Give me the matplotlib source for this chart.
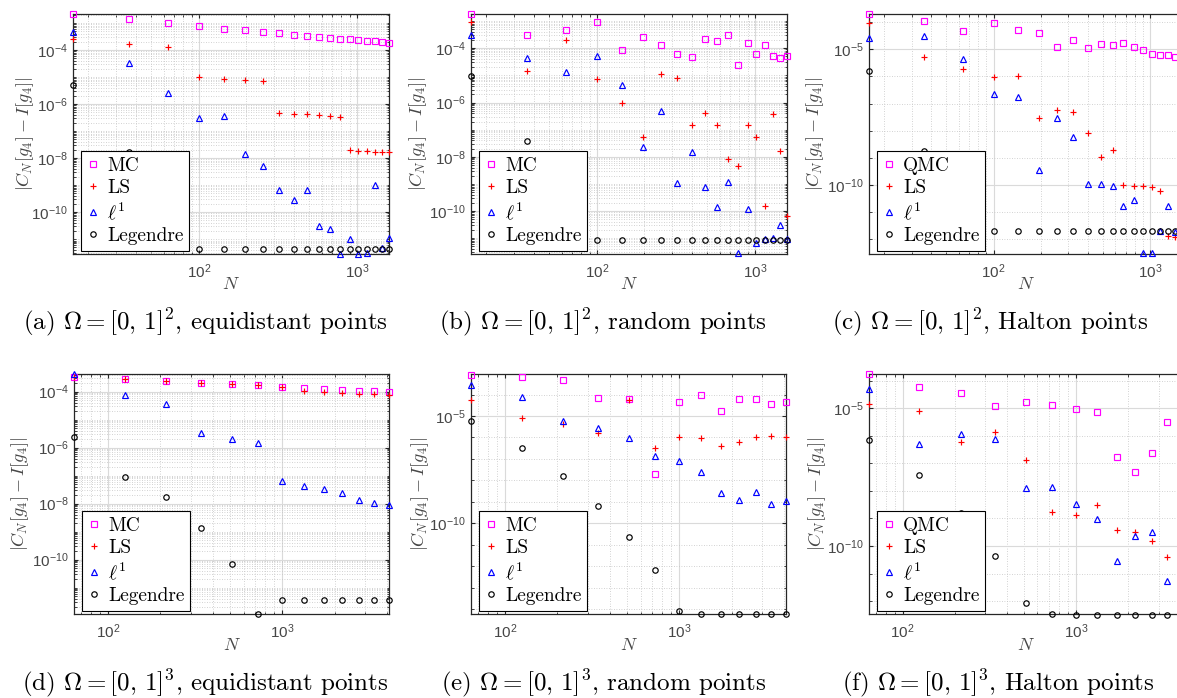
import numpy as np
import matplotlib
matplotlib.use("Agg")
import matplotlib.pyplot as plt
from matplotlib.ticker import LogLocator, NullFormatter, FixedLocator, FuncFormatter

# ---------------- data (log10 of |C_N[g4] - I[g4]|) ----------------
N2 = [16, 36, 64, 100, 144, 196, 256, 324, 400, 484, 576, 676, 784, 900, 1024, 1156, 1296, 1444, 1600]
N3 = [64, 125, 216, 343, 512, 729, 1000, 1331, 1728, 2197, 2744, 3375, 4096]

# (a) [0,1]^2 equidistant
mc_a = [-2.667, -2.863, -3.011, -3.111, -3.211, -3.270, -3.333, -3.381, -3.433, -3.470,
        -3.507, -3.544, -3.581, -3.604, -3.630, -3.656, -3.678, -3.704, -3.730]
ls_a = [-3.593, -3.789, -3.900, -4.989, -5.074, -5.122, -5.148, -6.322, -6.359, -6.381,
        -6.419, -6.444, -6.470, -7.704, -7.730, -7.752, -7.767, -7.778, -7.789]
l1_a = [-3.322, -4.493, -5.580, -6.507, -6.444, -7.852, -8.285, -9.159, -9.530, -9.185,
        -10.507, -10.619, -11.530, -10.989, -11.530, -11.493, -8.974, -11.322, -10.963]
lg_a = [-5.296, -7.778, -9.500, -11.346, -11.346, -11.346, -11.346, -11.346, -11.346, -11.346,
        -11.346, -11.346, -11.346, -11.346, -11.346, -11.346, -11.346, -11.346, -11.346]

# (b) [0,1]^2 random
mc_b = [-2.738, -3.522, -3.326, -3.021, -4.063, -3.573, -3.879, -4.221, -4.309, -3.647,
        -3.742, -3.522, -4.626, -3.794, -4.210, -3.868, -4.283, -4.357, -4.283]
ls_b = [-3.021, -4.824, -3.683, -5.141, -6.024, -7.254, -4.935, -5.082, -6.812, -6.392,
        -6.812, -8.085, -8.332, -6.812, -7.254, -9.830, -6.407, -7.769, -10.198]
l1_b = [-3.510, -4.346, -4.883, -4.283, -5.351, -7.644, -6.308, -8.969, -7.828, -9.116,
        -9.852, -8.932, -11.545, -9.904, -11.177, -11.030, -10.993, -10.504, -11.030]
lg_b = [-5.019, -7.400, -9.500, -11.056, -11.056, -11.056, -11.056, -11.056, -11.056, -11.056,
        -11.056, -11.056, -11.056, -11.056, -11.056, -11.056, -11.056, -11.056, -11.056]

# (c) [0,1]^2 Halton
mc_c = [-3.699, -3.946, -4.337, -4.020, -4.289, -4.410, -4.915, -4.646, -4.941, -4.805,
        -4.830, -4.757, -4.915, -5.037, -5.184, -5.199, -5.199, -5.273, -5.300]
ls_c = [-4.042, -5.295, -5.726, -6.032, -5.984, -7.532, -7.237, -7.322, -8.074, -8.958,
        -8.712, -10.013, -10.050, -10.028, -10.087, -10.234, -11.871, -11.930, -12.000]
l1_c = [-4.595, -4.510, -5.369, -6.659, -6.747, -9.449, -7.532, -8.221, -9.965, -9.965,
        -10.028, -10.765, -10.555, -12.519, -12.519, -11.686, -10.765, -11.723, -11.500]
lg_c = [-5.789, -8.737, -10.000, -11.686, -11.686, -11.686, -11.686, -11.686, -11.686, -11.686,
        -11.686, -11.686, -11.686, -11.686, -11.686, -11.686, -11.686, -11.686, -11.686]

# (d) [0,1]^3 equidistant
mc_d = [-3.488, -3.560, -3.619, -3.679, -3.726, -3.774, -3.821, -3.857, -3.905, -3.940, -3.964, -3.988, -4.012]
ls_d = [-3.488, -3.560, -3.619, -3.679, -3.726, -3.774, -3.821, -3.964, -4.012, -4.048, -4.071, -4.083, -4.107]
l1_d = [-3.369, -4.107, -4.440, -5.488, -5.702, -5.821, -7.179, -7.369, -7.488, -7.607, -7.881, -7.964, -8.060]
lg_d = [-5.631, -7.060, -7.750, -8.881, -10.155, -11.940, -11.440, -11.440, -11.440, -11.440, -11.440, -11.440, -11.440]

# (e) [0,1]^3 random
mc_e = [-3.090, -3.199, -3.323, -4.146, -4.208, -7.686, -4.332, -4.037, -4.752, -4.193, -4.208, -4.441, -4.348]
ls_e = [-4.255, -5.078, -5.357, -5.776, -4.239, -6.506, -5.994, -6.009, -6.413, -6.227, -5.978, -5.947, -5.978]
l1_e = [-3.556, -4.130, -5.217, -5.575, -6.040, -6.863, -7.081, -7.624, -8.602, -8.913, -8.540, -9.115, -8.975]
lg_e = [-5.217, -6.475, -7.780, -9.177, -10.652, -12.189, -14.068, -14.220, -14.220, -14.220, -14.220, -14.220, -14.220]

# (f) [0,1]^3 Halton
mc_f = [-3.753, -4.213, -4.455, -4.903, -4.770, -4.879, -5.036, -5.121, -6.755, -7.324, -6.622, -5.484, -5.600]
ls_f = [-4.855, -5.085, -6.235, -5.872, -6.877, -8.777, -8.886, -8.511, -9.431, -9.479, -9.818, -10.387, -10.600]
l1_f = [-4.310, -6.295, -5.944, -6.114, -7.893, -7.869, -8.475, -9.019, -10.545, -9.625, -9.504, -11.283, -11.000]
lg_f = [-6.150, -7.421, -8.789, -10.351, -12.082, -12.469, -12.500, -12.500, -12.500, -12.500, -12.500, -12.500, -12.500]

captions = [
    r"(a) $\Omega = [0,\,1]^2$, equidistant points",
    r"(b) $\Omega = [0,\,1]^2$, random points",
    r"(c) $\Omega = [0,\,1]^2$, Halton points",
    r"(d) $\Omega = [0,\,1]^3$, equidistant points",
    r"(e) $\Omega = [0,\,1]^3$, random points",
    r"(f) $\Omega = [0,\,1]^3$, Halton points",
]
first_labels = ["MC", "MC", "QMC", "MC", "MC", "QMC"]
other_labels = ["LS", r"$\ell^1$", "Legendre"]

# ---------------- style ----------------
plt.rcParams["font.family"] = ["Liberation Sans", "DejaVu Sans"]
plt.rcParams["mathtext.fontset"] = "custom"
plt.rcParams["mathtext.rm"] = "Liberation Sans"
plt.rcParams["mathtext.it"] = "Liberation Sans:italic"
plt.rcParams["mathtext.bf"] = "Liberation Sans:bold"
plt.rcParams["mathtext.sf"] = "Liberation Sans"

W, H = 1177, 698
fig = plt.figure(figsize=(W / 100, H / 100), dpi=100)

AXC = "#262626"
TXT = "#464646"

# panel geometry in pixels: left, top, right, bottom
geo = [
    (73, 14, 389, 254), (471, 14, 787, 254), (869, 14, 1182, 254),
    (74, 374, 389, 614), (471, 374, 786, 614), (869, 374, 1182, 614),
]
xlims = [(16, 1600)] * 3 + [(64, 4096)] * 3
ylims = [(-11.544, -2.667), (-11.58, -2.738), (-12.54, -3.699),
         (-11.94, -3.369), (-14.22, -3.043), (-12.47, -3.753)]
yticks = [[-10, -8, -6, -4], [-10, -8, -6, -4], [-10, -5],
          [-10, -8, -6, -4], [-10, -5], [-10, -5]]
dense_minor = [True, True, False, True, False, False]
ylab_off = [48, 53, 54, 54, 51, 52]
cap_x = [205, 603, 990, 205, 604, 998]
cap_y = [329, 329, 329, 690, 690, 690]

series = [
    (N2, mc_a, ls_a, l1_a, lg_a),
    (N2, mc_b, ls_b, l1_b, lg_b),
    (N2, mc_c, ls_c, l1_c, lg_c),
    (N3, mc_d, ls_d, l1_d, lg_d),
    (N3, mc_e, ls_e, l1_e, lg_e),
    (N3, mc_f, ls_f, l1_f, lg_f),
]

styles = [
    dict(marker="s", color="#ff00ff", ms=3.7),
    dict(marker="+", color="#ff0000", ms=4.8),
    dict(marker="^", color="#0000ff", ms=4.7),
    dict(marker="o", color="black", ms=3.9),
]


def sci_fmt(v, pos):
    e = int(round(np.log10(v)))
    return r"$\mathdefault{10^{%d}}$" % e


for i in range(6):
    l, t, r, b = geo[i]
    w, h = r - l, b - t
    ax = fig.add_axes([l / W, 1 - b / H, w / W, h / H])
    ax.set_xscale("log")
    ax.set_yscale("log")
    N = series[i][0]
    lines = []
    labels = [first_labels[i]] + other_labels
    for k in range(4):
        vals = 10.0 ** np.array(series[i][k + 1])
        st = styles[k]
        ln, = ax.plot(N, vals, linestyle="none", marker=st["marker"], color=st["color"],
                      markersize=st["ms"], markerfacecolor="none", markeredgewidth=0.85,
                      clip_on=False, zorder=3)
        lines.append(ln)
    ax.set_xlim(*xlims[i])
    ax.set_ylim(10.0 ** ylims[i][0], 10.0 ** ylims[i][1])

    ax.xaxis.set_major_locator(FixedLocator([100, 1000]))
    ax.xaxis.set_major_formatter(FuncFormatter(sci_fmt))
    ax.xaxis.set_minor_locator(LogLocator(base=10, subs=np.arange(2, 10), numticks=20))
    ax.xaxis.set_minor_formatter(NullFormatter())
    ax.yaxis.set_major_locator(FixedLocator([10.0 ** e for e in yticks[i]]))
    ax.yaxis.set_major_formatter(FuncFormatter(sci_fmt))
    if dense_minor[i]:
        ax.yaxis.set_minor_locator(LogLocator(base=10, subs=np.arange(1, 10), numticks=40))
    else:
        ax.yaxis.set_minor_locator(LogLocator(base=10, subs=(1.0,), numticks=40))
    ax.yaxis.set_minor_formatter(NullFormatter())

    ax.grid(True, which="major", color="#dadada", linewidth=0.8, linestyle="-", zorder=0)
    ax.grid(True, which="minor", color="#c4c4c4", linewidth=0.6, linestyle=(0, (1, 2)), zorder=0)
    ax.set_axisbelow(True)

    for sp in ax.spines.values():
        sp.set_color(AXC)
        sp.set_linewidth(0.9)
    ax.tick_params(which="both", direction="in", top=True, right=True, color=AXC)
    ax.tick_params(which="major", length=3, width=0.8, labelsize=11, labelcolor=TXT)
    ax.tick_params(axis="x", which="major", pad=6)
    ax.tick_params(axis="y", which="major", pad=4)
    ax.tick_params(which="minor", length=1.8, width=0.6)

    ax.set_xlabel(r"$N$", fontsize=13, color=TXT, math_fontfamily="cm", va="center")
    ax.xaxis.set_label_coords(0.5, -31 / h)
    ax.set_ylabel(r"$|C_N[g_4]-I[g_4]|$", fontsize=13, color=TXT, math_fontfamily="cm",
                  va="center", ha="center")
    ax.yaxis.set_label_coords(-ylab_off[i] / w, 0.5)

    leg = ax.legend(lines, labels, loc="lower left", bbox_to_anchor=(8 / w, 3 / h),
                    borderaxespad=0, fancybox=False, framealpha=1, edgecolor="black",
                    prop={"family": "cmr10", "size": 14}, handlelength=0.6,
                    handletextpad=0.45, borderpad=0.3, labelspacing=0.22)
    leg.get_frame().set_linewidth(0.8)
    leg.set_zorder(10)
    for txt in leg.get_texts():
        txt.set_math_fontfamily("cm")

    fig.text(cap_x[i] / W, 1 - cap_y[i] / H, captions[i], ha="center", va="baseline",
             fontsize=18, family="cmr10", math_fontfamily="cm", color="black")

fig.savefig("out.png", dpi=100)
